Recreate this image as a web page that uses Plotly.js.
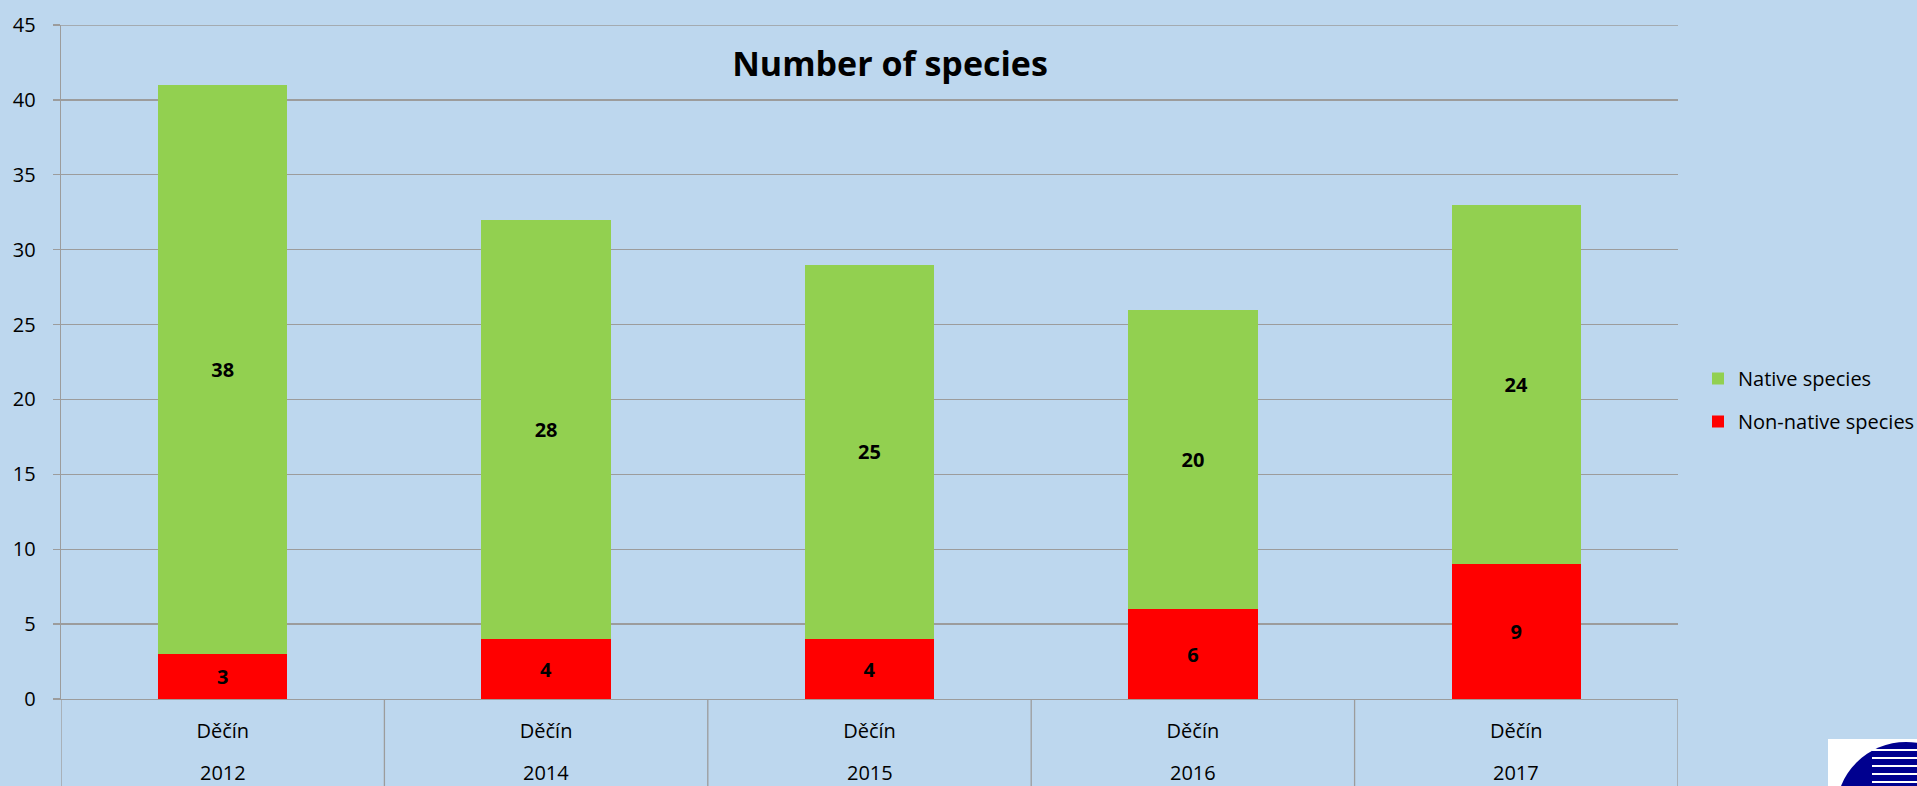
<!DOCTYPE html>
<html>
<head>
<meta charset="utf-8">
<script src="https://cdn.plot.ly/plotly-3.0.1.min.js"></script>
<style>html,body{margin:0;padding:0;background:#BDD7EE;}#chart{width:1917px;height:786px;}</style>
</head>
<body>
<div id="chart"></div>
<script>
const sites = ["Děčín", "Děčín", "Děčín", "Děčín", "Děčín"];
const years = ["2012", "2014", "2015", "2016", "2017"];
const nonNative = [3, 4, 4, 6, 9];
const native = [38, 28, 25, 20, 24];
const yTicks = [0, 5, 10, 15, 20, 25, 30, 35, 40, 45];

const bg = '#BDD7EE';
const grid = '#9C9C9C';
const font = 'Open Sans, sans-serif';
const plotH = 674;          // plot area height (px)
const bottomM = 87;         // bottom margin (px)

const traces = [
  {
    type: 'bar', name: 'Non-native species', x: years, y: nonNative,
    marker: {color: '#FF0000'}, width: 0.4,
    text: nonNative.map(String), textposition: 'inside', insidetextanchor: 'middle',
    textangle: 0, constraintext: 'none',
    textfont: {family: font, size: 20, color: '#000', weight: 'bold'},
    legendgroup: 'b', legendrank: 2, hoverinfo: 'skip'
  },
  {
    type: 'bar', name: 'Native species', x: years, y: native,
    marker: {color: '#92D050'}, width: 0.4,
    text: native.map(String), textposition: 'inside', insidetextanchor: 'middle',
    textangle: 0, constraintext: 'none',
    textfont: {family: font, size: 20, color: '#000', weight: 'bold'},
    legendgroup: 'a', legendrank: 1, hoverinfo: 'skip'
  }
];

const shapes = [];
// divider lines of the category table under the plot (category index boundaries)
for (let i = 0; i <= years.length; i++) {
  shapes.push({type: 'line', xref: 'x', yref: 'paper',
    x0: i - 0.5, x1: i - 0.5, y0: 0, y1: -bottomM / plotH,
    line: {color: grid, width: 1.3}, layer: 'above'});
}
// top gridline at 45
shapes.push({type: 'line', xref: 'paper', yref: 'y', x0: 0, x1: 1,
  y0: yTicks[yTicks.length - 1], y1: yTicks[yTicks.length - 1],
  line: {color: grid, width: 1.3}, layer: 'below'});

// logo fragment in the lower right corner
shapes.push({type: 'rect', xref: 'paper', yref: 'paper',
  x0: (1828 - 61) / 1617, x1: (1917 - 61) / 1617,
  y0: (699 - 786) / plotH, y1: (699 - 739) / plotH,
  fillcolor: '#FFFFFF', line: {width: 0}, layer: 'above'});
shapes.push({type: 'circle', xref: 'paper', yref: 'paper',
  x0: (1836 - 61) / 1617, x1: (1976 - 61) / 1617,
  y0: (699 - 882) / plotH, y1: (699 - 742) / plotH,
  fillcolor: '#00008F', line: {width: 0}, layer: 'above'});
[750, 758, 766, 774, 782].forEach(function (yy) {
  shapes.push({type: 'line', xref: 'paper', yref: 'paper',
    x0: (1872 - 61) / 1617, x1: (1917 - 61) / 1617,
    y0: (699 - yy) / plotH, y1: (699 - yy) / plotH,
    line: {color: '#FFFFFF', width: 2}, layer: 'above'});
});

// year row of the category table (placed at category index)
const annotations = years.map(function (yr, i) {
  return {x: i, xref: 'x', y: (699 - 773) / plotH, yref: 'paper',
    text: yr, showarrow: false, xanchor: 'center', yanchor: 'middle',
    font: {family: font, size: 20, color: '#000'}};
});

const layout = {
  width: 1917, height: 786,
  paper_bgcolor: bg, plot_bgcolor: bg,
  margin: {l: 61, r: 239, t: 25, b: bottomM, pad: 0},
  barmode: 'stack',
  font: {family: font, size: 20, color: '#000'},
  title: {
    text: '<b>Number of species</b>',
    font: {family: font, size: 34, color: '#000'},
    x: 890 / 1917, xref: 'container', xanchor: 'center',
    y: 1 - 64 / 786, yref: 'container', yanchor: 'middle'
  },
  xaxis: {
    type: 'category', range: [-0.5, years.length - 0.5],
    categoryorder: 'array', categoryarray: years,
    tickvals: years, ticktext: sites,
    showline: true, linecolor: grid, linewidth: 1.3,
    ticks: '', showgrid: false, ticklabelstandoff: 14,
    tickfont: {family: font, size: 20, color: '#000'},
    automargin: false
  },
  yaxis: {
    range: [0, 45], tickvals: yTicks, ticktext: yTicks.map(String),
    showline: true, linecolor: grid, linewidth: 1.3,
    ticks: 'outside', ticklen: 7, tickcolor: grid, tickwidth: 1.3,
    showgrid: true, gridcolor: grid, gridwidth: 1.3,
    zeroline: false, ticklabelstandoff: 13,
    tickfont: {family: font, size: 20, color: '#000'},
    automargin: false
  },
  legend: {
    xref: 'container', yref: 'container',
    x: 1698 / 1917, xanchor: 'left', y: 1 - 400 / 786, yanchor: 'middle',
    bgcolor: 'rgba(0,0,0,0)', traceorder: 'grouped', tracegroupgap: 14,
    font: {family: font, size: 20, color: '#000'}
  },
  showlegend: true,
  shapes: shapes,
  annotations: annotations
};

Plotly.newPlot('chart', traces, layout, {displayModeBar: false, staticPlot: true});
</script>
</body>
</html>
